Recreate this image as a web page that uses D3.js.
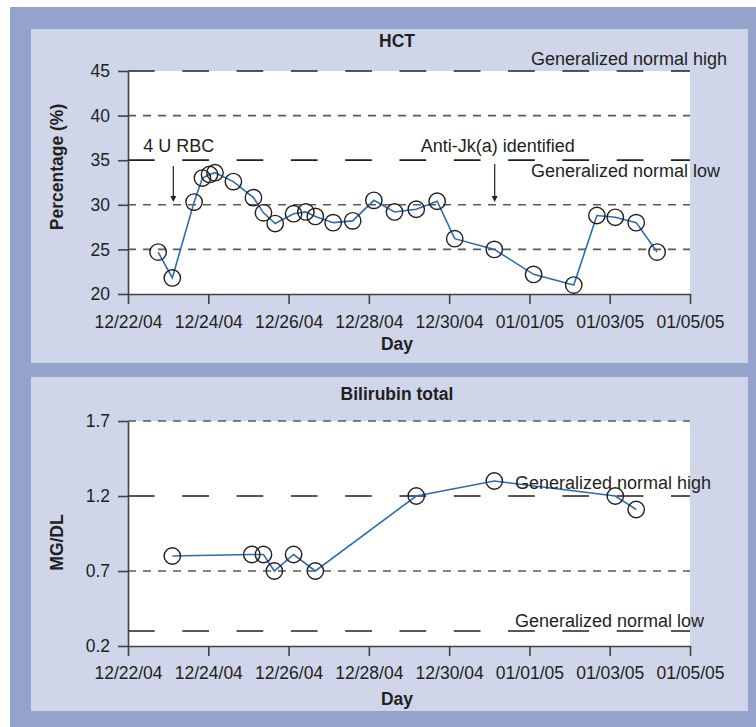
<!DOCTYPE html>
<html><head><meta charset="utf-8">
<script src="https://cdn.jsdelivr.net/npm/d3@7"></script>
<style>
body{margin:0;background:#fff}
svg{display:block}
text{font-family:"Liberation Sans",Arial,Helvetica,sans-serif;fill:#231f20}
</style>
</head><body>
<svg id="c" width="756" height="727"></svg>
<script>
// ---- data ----
const xTickLabels = ["12/22/04","12/24/04","12/26/04","12/28/04","12/30/04","01/01/05","01/03/05","01/05/05"];

const hctTimes = ["2004-12-22 18:00","2004-12-23 02:30","2004-12-23 15:30","2004-12-23 20:30","2004-12-24 00:45",
  "2004-12-24 04:00","2004-12-24 15:00","2004-12-25 03:00","2004-12-25 09:00","2004-12-25 16:00",
  "2004-12-26 03:00","2004-12-26 10:20","2004-12-26 16:00","2004-12-27 02:40","2004-12-27 14:20",
  "2004-12-28 03:00","2004-12-28 15:20","2004-12-29 04:20","2004-12-29 16:50","2004-12-30 03:20",
  "2004-12-31 03:00","2005-01-01 02:30","2005-01-02 02:30","2005-01-02 16:20","2005-01-03 03:20",
  "2005-01-03 15:50","2005-01-04 04:20"];
const hctValues = [24.7,21.8,30.3,33.0,33.4,33.6,32.6,30.8,29.1,27.9,29.0,29.2,28.7,28.0,28.2,30.5,
  29.2,29.5,30.4,26.2,25.0,22.2,21.0,28.8,28.6,28.0,24.7];
const hctTicks = [20,25,30,35,40,45];
const hctNormalHigh = 45, hctNormalLow = 35;
const hctGrid = [40,30,25];

const biliTimes = ["2004-12-23 02:30","2004-12-25 02:00","2004-12-25 09:00","2004-12-25 15:30","2004-12-26 03:00",
  "2004-12-26 16:00","2004-12-29 04:20","2004-12-31 03:00","2005-01-03 03:20","2005-01-03 15:50"];
const biliValues = [0.80,0.81,0.81,0.70,0.81,0.70,1.20,1.30,1.20,1.11];
const biliTicks = [0.2,0.7,1.2,1.7];
const biliNormalHigh = 1.2, biliNormalLow = 0.3;
const biliGrid = [1.7,0.7];

// ---- drawing ----
const svg = d3.select("#c");
const parseT = d3.utcParse("%Y-%m-%d %H:%M");
const parseTick = d3.utcParse("%m/%d/%y");
const fmtTick = d3.utcFormat("%m/%d/%y");
const tickDates = xTickLabels.map(parseTick);

const DARK = "#93a3cc", LIGHT = "#cfd6ea";
svg.append("rect").attr("x",10).attr("y",7).attr("width",746).attr("height",720).attr("fill",DARK);

function panel(o){
  svg.append("rect").attr("x",31).attr("y",o.py).attr("width",717).attr("height",334).attr("fill",LIGHT);
  const x = d3.scaleUtc().domain([tickDates[0], tickDates[tickDates.length-1]]).range([128,690]);
  const y = d3.scaleLinear().domain(o.domain).range([o.y1,o.y0]);
  svg.append("rect").attr("x",128).attr("y",o.y0).attr("width",562).attr("height",o.y1-o.y0).attr("fill","#fff");

  const g = svg.append("g");
  g.selectAll(".sg").data(o.grid).join("line")
    .attr("x1",128).attr("x2",690).attr("y1",d=>y(d)).attr("y2",d=>y(d))
    .attr("stroke","#58595b").attr("stroke-width",1.6).attr("stroke-dasharray","8,7");
  g.selectAll(".lg").data(o.normals).join("line")
    .attr("x1",128).attr("x2",690).attr("y1",d=>y(d)).attr("y2",d=>y(d))
    .attr("stroke","#231f20").attr("stroke-width",1.7).attr("stroke-dasharray","26.7,27.6");

  const ax = svg.append("g").attr("transform",`translate(0,${o.y1})`)
    .call(d3.axisBottom(x).tickValues(tickDates).tickFormat(fmtTick).tickSize(10).tickSizeOuter(0).tickPadding(o.xpad));
  const ay = svg.append("g").attr("transform","translate(128,0)")
    .call(d3.axisLeft(y).tickValues(o.ticks).tickFormat(o.fmt).tickSize(10).tickSizeOuter(0).tickPadding(8));
  [ax,ay].forEach(a=>{
    a.select(".domain").attr("stroke","#414042").attr("stroke-width",1.6);
    a.selectAll(".tick line").attr("stroke","#414042").attr("stroke-width",1.6);
    a.selectAll(".tick text").attr("fill","#231f20").style("font-size","17.5px")
      .style("font-family","'Liberation Sans',Arial,sans-serif");
  });

  const pts = o.times.map((t,i)=>[x(parseT(t)), y(o.values[i])]);
  svg.append("path").attr("d",d3.line()(pts)).attr("fill","none")
    .attr("stroke","#2c6cb3").attr("stroke-width",1.6);
  svg.append("g").selectAll("circle").data(pts).join("circle")
    .attr("cx",d=>d[0]).attr("cy",d=>d[1]).attr("r",8.2)
    .attr("fill","none").attr("stroke","#231f20").attr("stroke-width",1.4);

  svg.append("text").attr("x",397).attr("y",o.titleY).attr("text-anchor","middle")
    .style("font-weight","bold").style("font-size","17.5px").text(o.title);
  svg.append("text").attr("x",397).attr("y",o.dayY).attr("text-anchor","middle")
    .style("font-weight","bold").style("font-size","17.5px").text("Day");
  svg.append("text").attr("transform",`translate(${o.ylx},${o.yly}) rotate(-90)`).attr("text-anchor","middle")
    .style("font-weight","bold").style("font-size","17.5px").text(o.ylabel);

  svg.append("text").attr("x",o.nlx).attr("y",o.nhY).style("font-size","18px").text("Generalized normal high");
  svg.append("text").attr("x",o.nlx).attr("y",o.nlY).style("font-size","18px").text("Generalized normal low");
  return {x,y};
}

const hctPanel = panel({py:29, y0:71, y1:294, domain:[20,45], ticks:hctTicks, fmt:d3.format("d"),
  grid:hctGrid, normals:[hctNormalHigh,hctNormalLow], times:hctTimes, values:hctValues,
  title:"HCT", titleY:47, dayY:350, ylabel:"Percentage (%)", ylx:62.5, yly:167, xpad:11.5,
  nlx:531, nhY:65, nlY:177});

const biliPanel = panel({py:377, y0:421, y1:646, domain:[0.2,1.7], ticks:biliTicks, fmt:d3.format(".1f"),
  grid:biliGrid, normals:[biliNormalHigh,biliNormalLow], times:biliTimes, values:biliValues,
  title:"Bilirubin total", titleY:400, dayY:705, ylabel:"MG/DL", ylx:63, yly:542.5, xpad:11,
  nlx:515, nhY:489, nlY:627});

function arrow(xp, yTop, yTip, label, lx){
  svg.append("text").attr("x",lx).attr("y",151.7).style("font-size","18px").text(label);
  svg.append("line").attr("x1",xp).attr("x2",xp).attr("y1",yTop).attr("y2",yTip-4)
    .attr("stroke","#231f20").attr("stroke-width",1.2);
  svg.append("path").attr("d",`M${xp-3},${yTip-6}L${xp+3},${yTip-6}L${xp},${yTip}Z`).attr("fill","#231f20");
}
arrow(173.3, 166, 202, "4 U RBC", 143.3);
arrow(494.7, 164, 202, "Anti-Jk(a) identified", 420.7);
</script>
</body></html>
